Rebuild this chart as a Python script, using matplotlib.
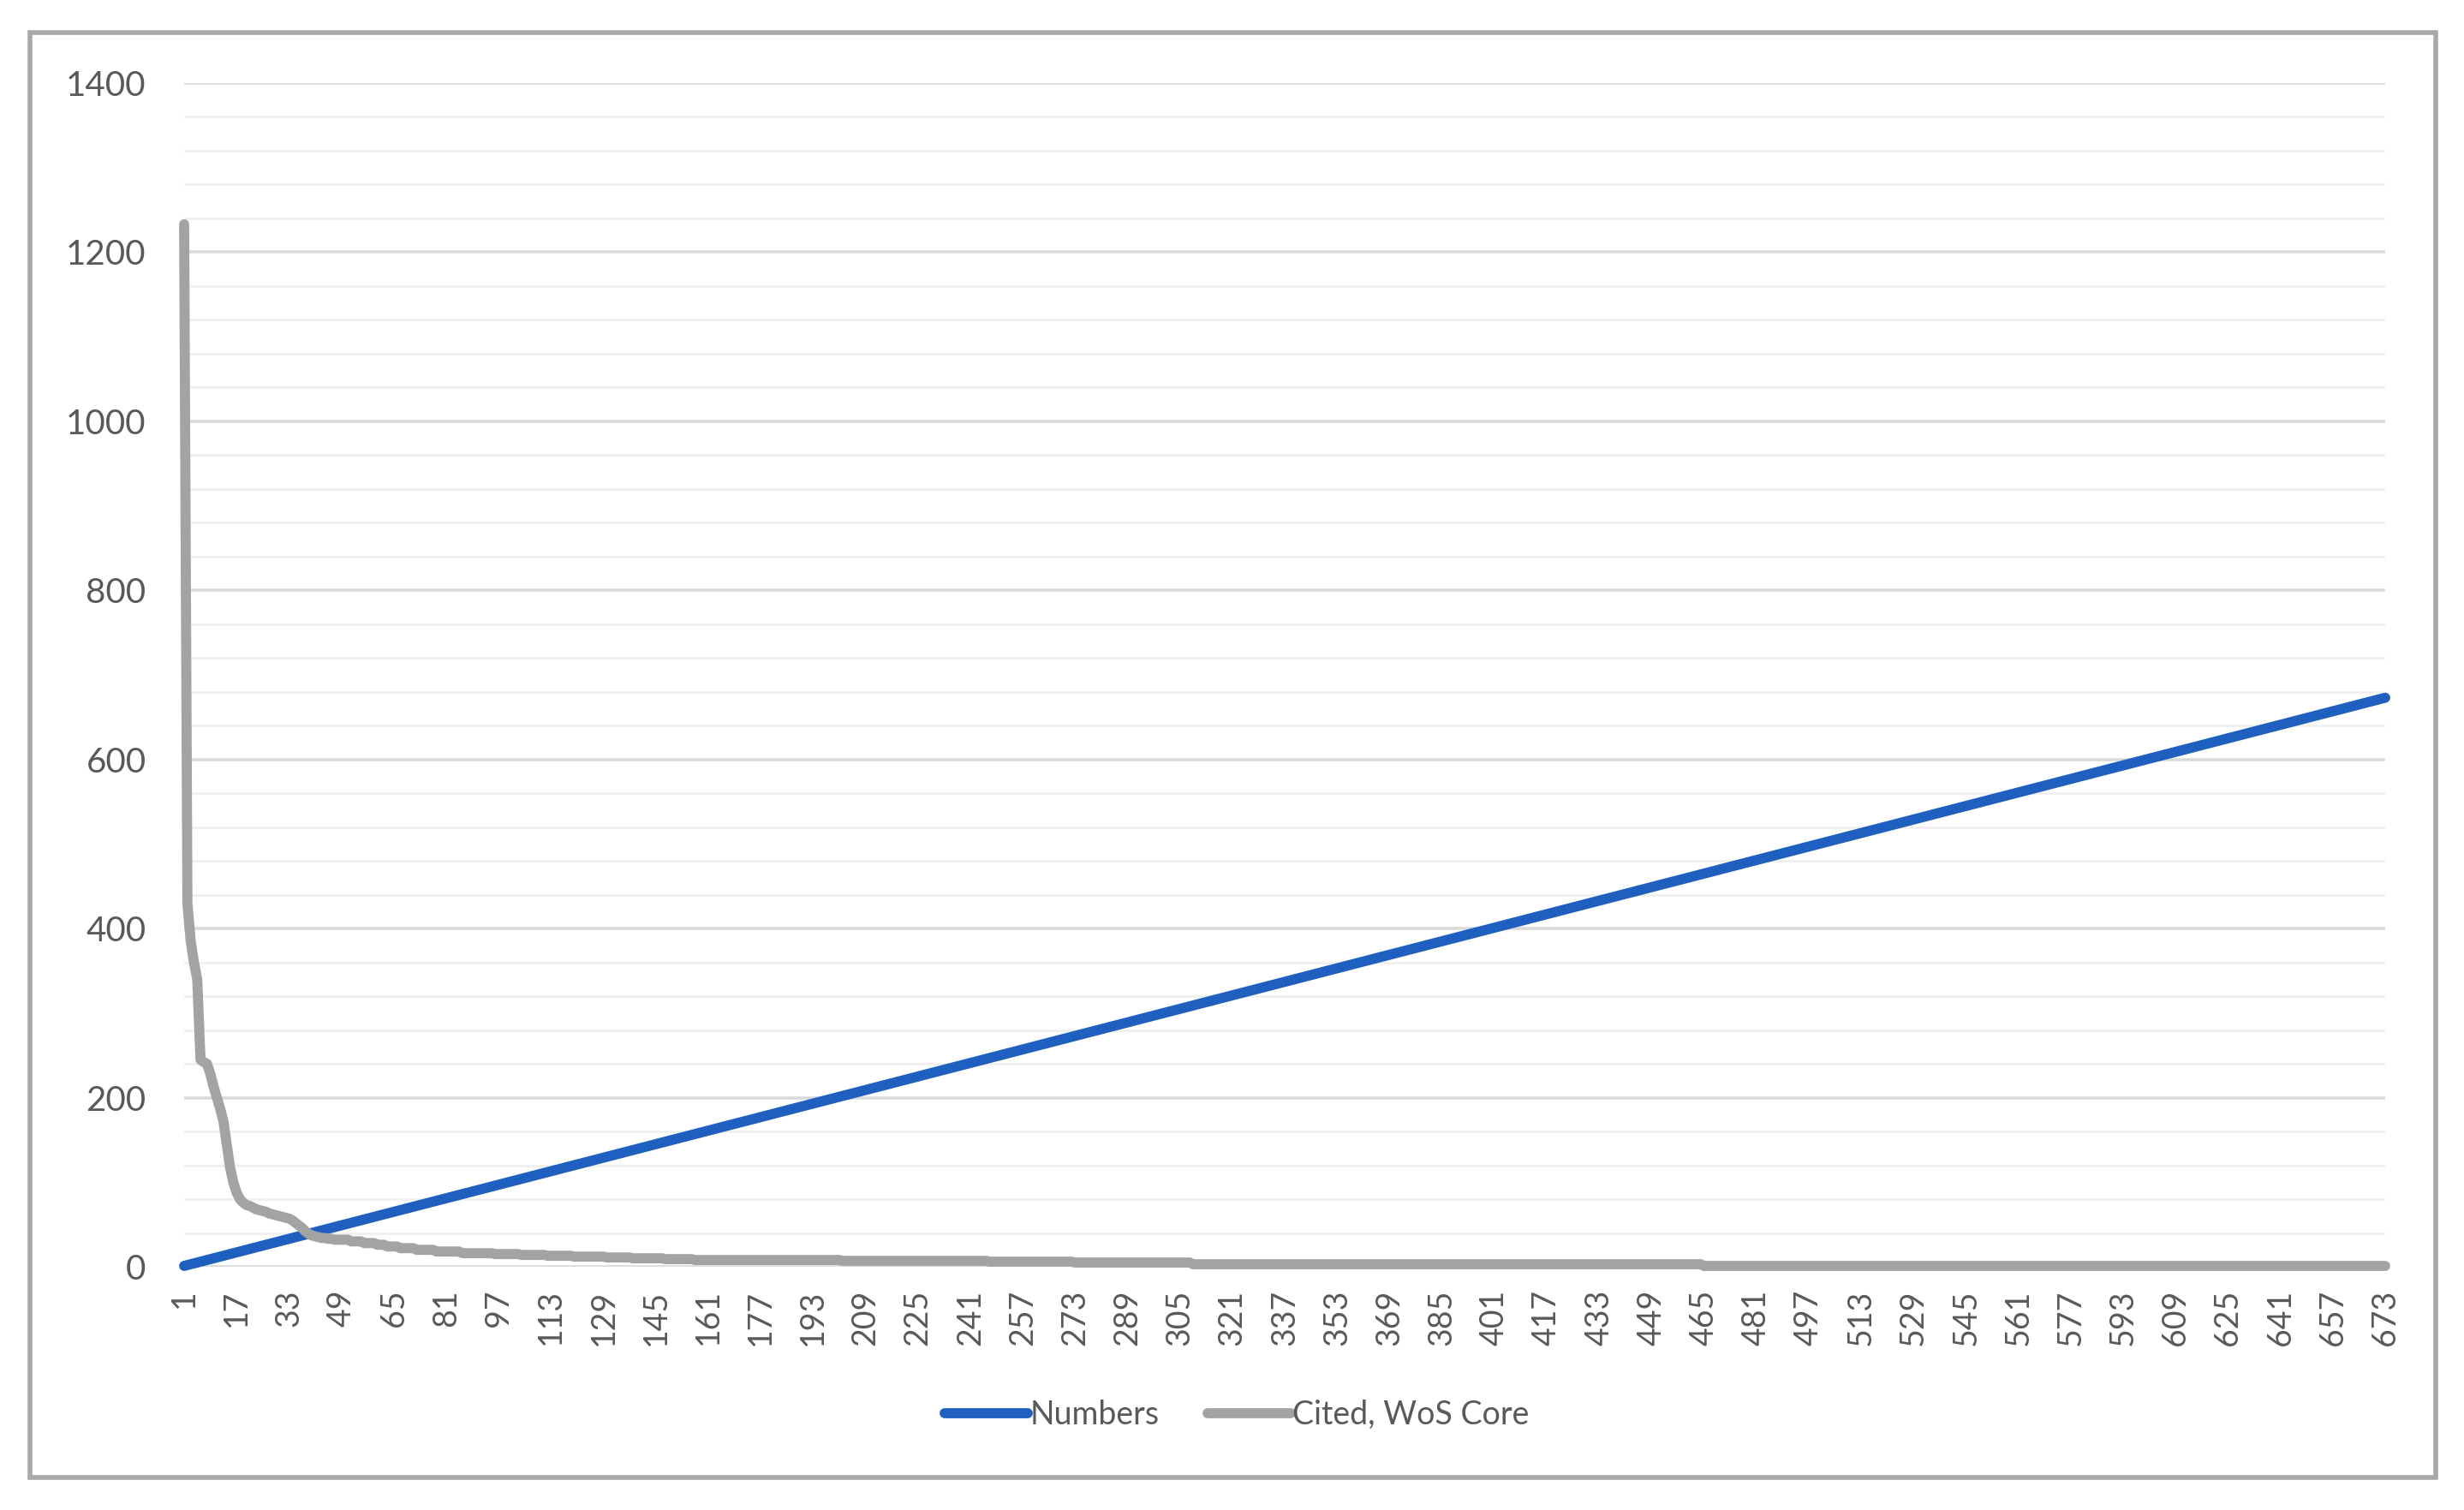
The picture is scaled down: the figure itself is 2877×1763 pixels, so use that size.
import numpy as np
import matplotlib.pyplot as plt
from matplotlib.patches import Rectangle

plt.rcParams['font.family'] = ['Lato', 'DejaVu Sans']

#---------------------------------------------
'''DATA (read off the chart)'''
#---------------------------------------------
# rank of the paper (category axis)
rank = list(range(1, 674))
# "Numbers" series is the rank itself
numbers = list(range(1, 674))

# citations, WoS core: first 48 papers one by one
cited_head = [1233, 430, 385, 360, 340, 245, 242, 240, 228, 213,
              200, 187, 172, 145, 118, 100, 88, 80, 76, 73,
              72, 70, 68, 67, 66, 65, 63, 62, 61, 60,
              59, 58, 57, 55, 52, 49, 46, 42, 39, 37,
              36, 35, 34, 34, 33, 33, 32, 32]
# long tail as (value, number of papers) runs
tail_values = [32, 30, 28, 26, 24, 22, 20, 18, 16, 15, 14, 13, 12, 11, 10, 9, 8, 7, 6, 5, 3, 1]
tail_counts = [3, 4, 4, 3, 4, 5, 6, 8, 10, 8, 8, 8, 10, 8, 10, 9, 45, 45, 26, 36, 156, 209]
cited = cited_head + list(np.repeat(tail_values, tail_counts))

x_ticks = list(range(1, 674, 16))
y_ticks = [0, 200, 400, 600, 800, 1000, 1200, 1400]

#---------------
'''PLOTTING'''
#---------------
W, H = 2877, 1763
fig = plt.figure(figsize=(W / 100, H / 100), dpi=100)
ax = fig.add_axes([215 / W, 1 - 1479 / H, (2785 - 215) / W, (1479 - 97) / H])

ax.plot(rank, numbers, color='#1f5fbf', lw=8.5, solid_capstyle='round',
        clip_on=False, zorder=3, label='Numbers')
ax.plot(rank, cited, color='#a3a3a3', lw=8.5, solid_capstyle='round',
        solid_joinstyle='round', clip_on=False, zorder=4, label='Cited, WoS Core')

#axis ranges and ticks
ax.set_xlim(1, 673)
ax.set_ylim(0, 1400)
ax.set_yticks(y_ticks)
ax.set_yticks(np.arange(0, 1401, 40), minor=True)
ax.set_xticks(x_ticks)
ax.set_xticklabels([str(v) for v in x_ticks], rotation=90, va='top', ha='center')

ax.grid(axis='y', which='major', color='#dadada', lw=2.6, zorder=0)
ax.grid(axis='y', which='minor', color='#efefef', lw=1.8, zorder=0)
ax.set_axisbelow(True)
ax.tick_params(axis='both', which='both', length=0, labelsize=27, labelcolor='#595959')
ax.tick_params(axis='y', pad=32, labelsize=29)
ax.tick_params(axis='x', pad=19)
for s in ax.spines.values():
    s.set_visible(False)

#outer chart frame
fig.patches.append(Rectangle((35 / W, 1 - 1725 / H), (2844 - 35) / W, (1725 - 38) / H,
                             transform=fig.transFigure, fill=False,
                             ec='#a8a8a8', lw=4))

#legend
fig.legend(loc='center', bbox_to_anchor=(1444 / W, 1 - 1652 / H), ncol=2,
           frameon=False, handlelength=2.6, handletextpad=0.05, columnspacing=1.5,
           prop={'size': 27}, labelcolor='#595959')

fig.savefig('out.png', dpi=100)
